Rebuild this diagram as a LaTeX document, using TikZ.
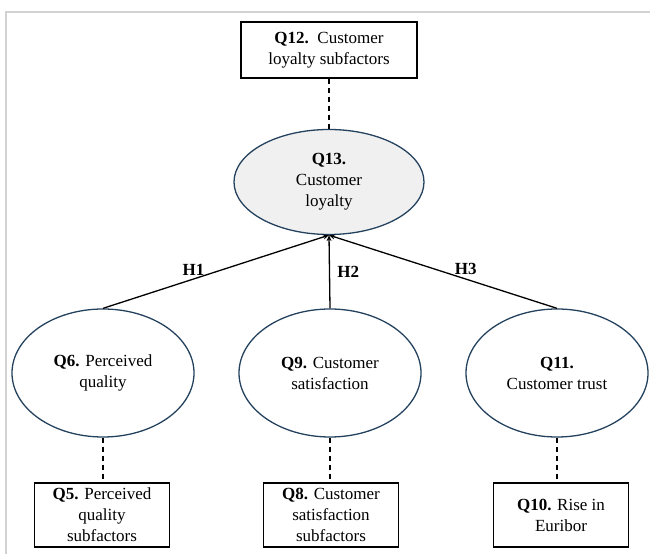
\documentclass[tikz,border=0pt]{standalone}
\usepackage{fontspec}
\setmainfont{Liberation Serif}
\usetikzlibrary{shapes.geometric,arrows.meta}
\definecolor{rim}{HTML}{24425E}
\definecolor{framegray}{HTML}{D2D2D2}

\begin{document}
\begin{tikzpicture}[x=1pt,y=1pt,
    every node/.style={font=\fontsize{17}{21}\selectfont, align=center},
    factor/.style={ellipse, draw=rim, line width=1.3pt, inner sep=0pt},
    subbox/.style={rectangle, draw, line width=1.3pt, inner sep=0pt},
    link/.style={line width=1.3pt, dash pattern=on 5pt off 4pt},
    hyp/.style={line width=1.3pt, -{Stealth[length=6pt,width=5pt]}}]
              \useasboundingbox (0,0) rectangle (650,554);
              \draw[framegray, line width=2pt] (6,0) -- (6,542) -- (650,542);
              % loyalty on top
              \node[subbox, minimum width=176pt, minimum height=56pt] (q12) at (329,504) {\textbf{Q12.}\, Customer\\loyalty subfactors};
              \node[factor, fill=black!6, minimum width=190pt, minimum height=105pt] (q13) at (329,372) {\textbf{Q13.}\\Customer\\loyalty};
              % the three drivers
              \node[factor, minimum width=182pt, minimum height=128pt] (q6) at (103,181) {\textbf{Q6.} Perceived\\quality};
              \node[factor, minimum width=182pt, minimum height=128pt] (q9) at (330,181) {\textbf{Q9.} Customer\\satisfaction};
              \node[factor, minimum width=182pt, minimum height=128pt] (q11) at (557,181) {\textbf{Q11.}\\Customer trust};
              \node[subbox, minimum width=135pt, minimum height=64pt] (q5) at (102,39) {\textbf{Q5.} Perceived\\quality\\subfactors};
              \node[subbox, minimum width=135pt, minimum height=64pt] (q8) at (331,39) {\textbf{Q8.} Customer\\satisfaction\\subfactors};
              \node[subbox, minimum width=135pt, minimum height=64pt] (q10) at (561,39) {\textbf{Q10.} Rise in\\Euribor};
              \draw[link] (q12.south) -- (q13.north);
              \draw[link] (q6.south) -- (q5.north -| q6.south);
              \draw[link] (q9.south) -- (q8.north -| q9.south);
              \draw[link] (q11.south) -- (q10.north -| q11.south);
              \draw[hyp] (q6.north) -- node[pos=0.4, above, yshift=0pt] {\textbf{H1}} (q13.south);
              \draw[hyp] (q9.north) -- node[pos=0.5, right, xshift=4pt] {\textbf{H2}} (q13.south);
              \draw[hyp] (q11.north) -- node[pos=0.4, above, yshift=0pt] {\textbf{H3}} (q13.south);
        \end{tikzpicture}
\end{document}
